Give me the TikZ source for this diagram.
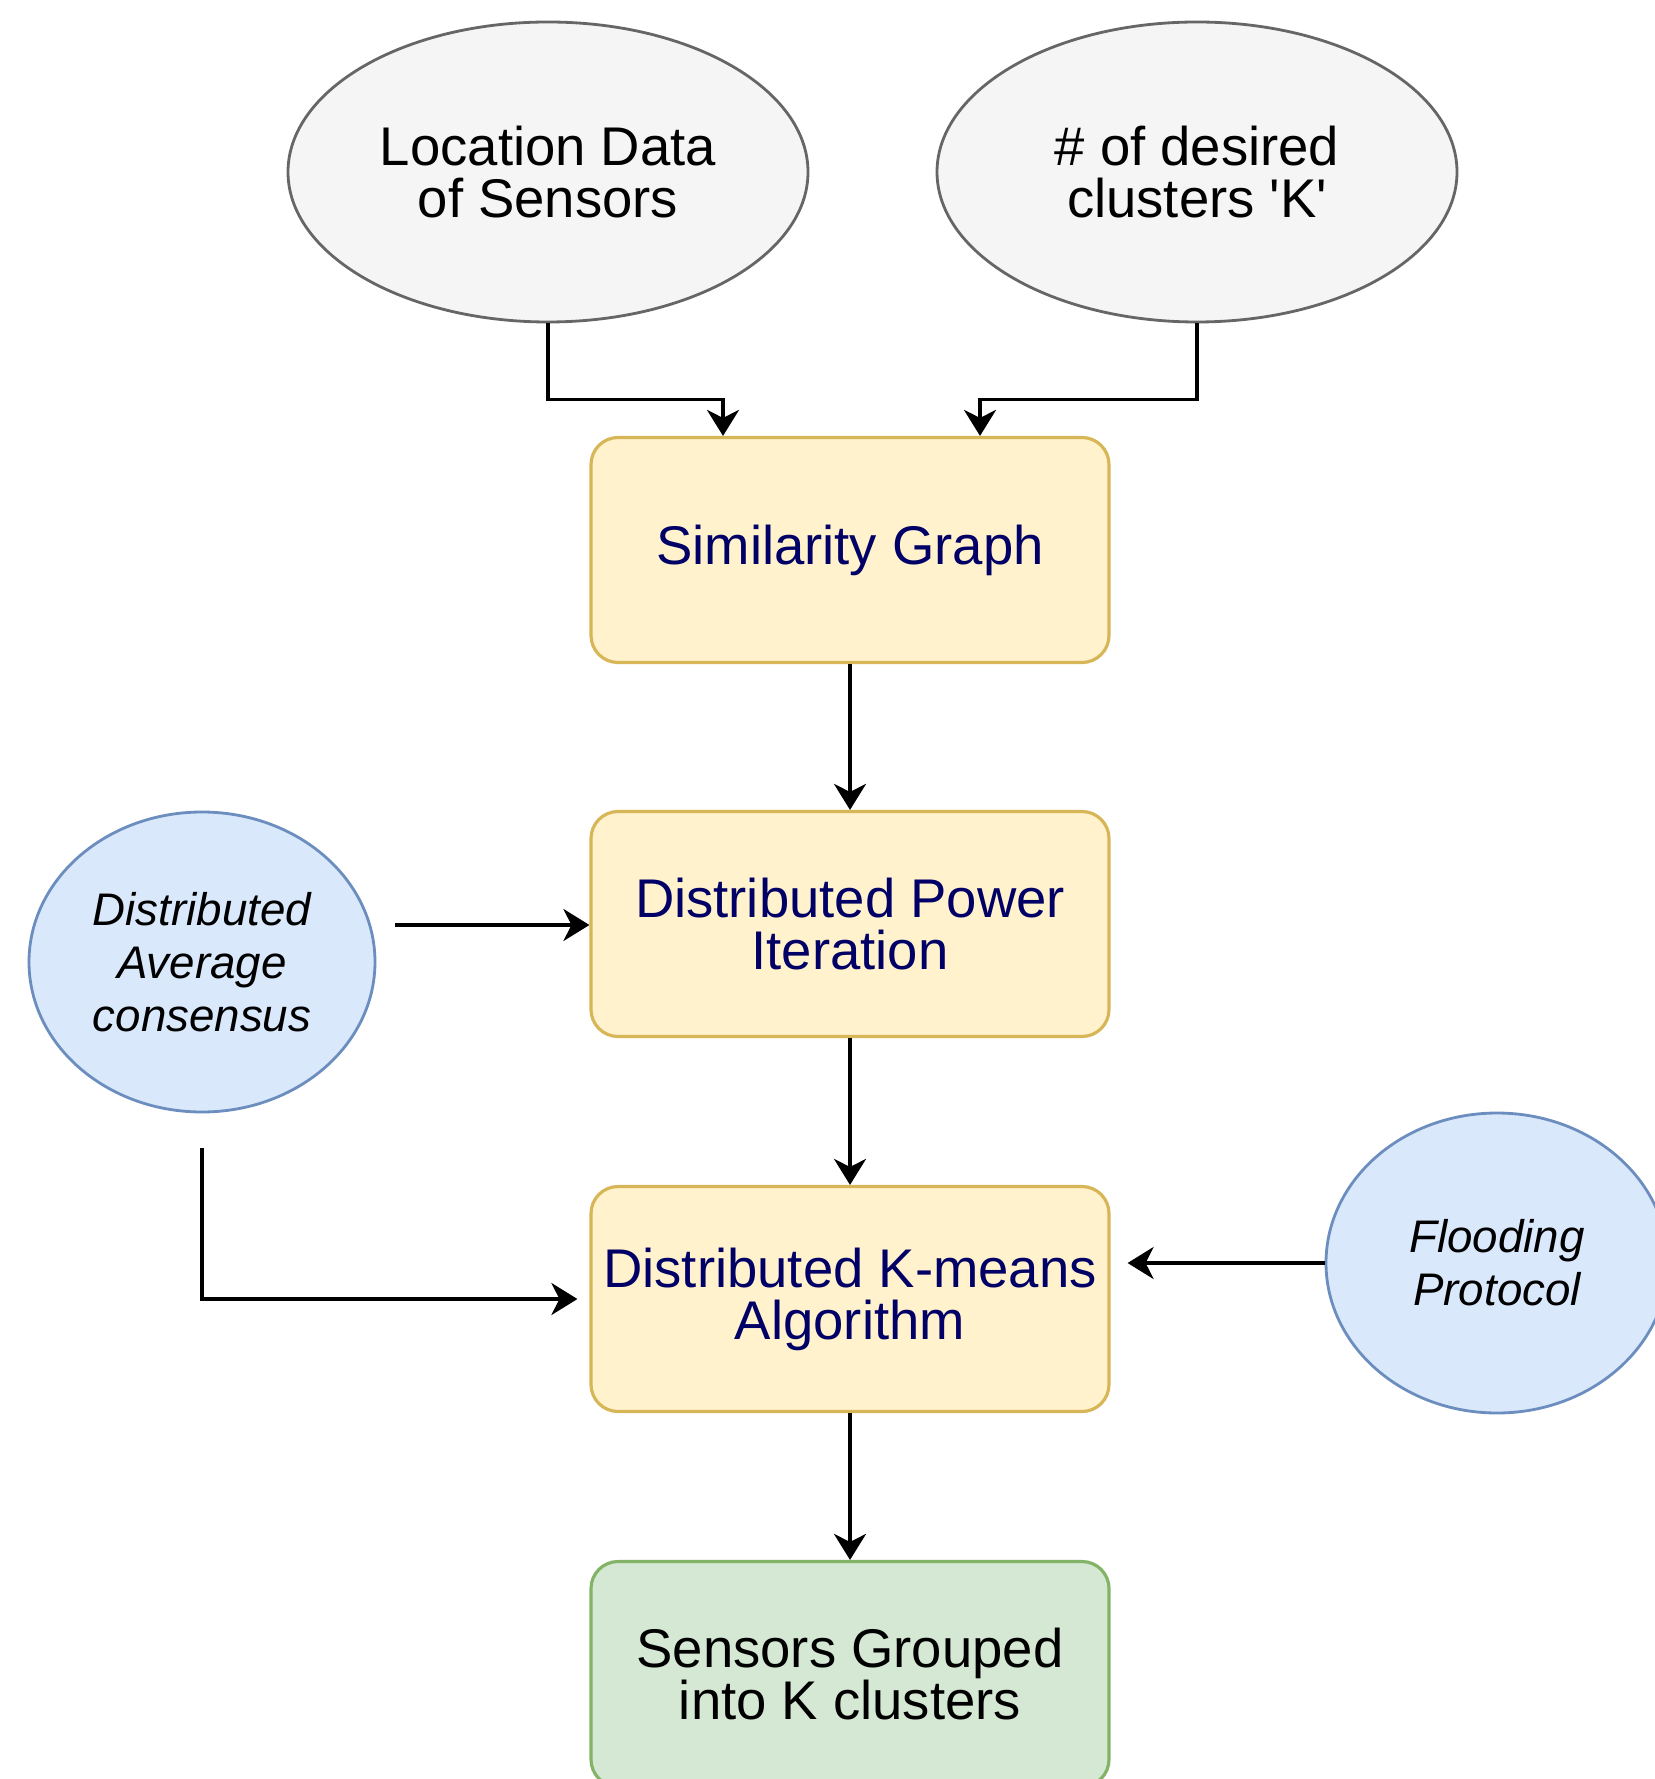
\documentclass[tikz,border=0pt]{standalone}
\usepackage{fontspec}
\setmainfont{Liberation Sans}
\usetikzlibrary{shapes.geometric,arrows.meta,positioning}

\definecolor{grayfill}{HTML}{F5F5F5}
\definecolor{graydraw}{HTML}{666666}
\definecolor{yelfill}{HTML}{FFF2CC}
\definecolor{yeldraw}{HTML}{D6B656}
\definecolor{bluefill}{HTML}{DAE8FC}
\definecolor{bluedraw}{HTML}{6C8EBF}
\definecolor{grnfill}{HTML}{D5E8D4}
\definecolor{grndraw}{HTML}{82B366}
\definecolor{navytext}{HTML}{000066}

\tikzset{
 inputblob/.style={ellipse, draw=graydraw, fill=grayfill, line width=0.8pt,
   minimum width=5.2cm, minimum height=3cm, inner sep=0pt, align=center,
   font=\fontsize{15.5}{14.8}\selectfont},
 helperblob/.style={ellipse, draw=bluedraw, fill=bluefill, line width=0.8pt,
   minimum height=3cm, inner sep=0pt, align=center,
   font=\itshape\fontsize{13}{15}\selectfont},
 stagebox/.style={rectangle, rounded corners=0.27cm, draw=yeldraw, fill=yelfill,
   line width=0.9pt, minimum width=5.18cm, minimum height=2.25cm, align=center,
   text=navytext, font=\fontsize{15.5}{14.8}\selectfont},
 outbox/.style={stagebox, draw=grndraw, fill=grnfill, text=black},
 flow/.style={-{Stealth[length=0.26cm,width=0.32cm,inset=0.08cm]}, line width=0.95pt}
}

\begin{document}
\begin{tikzpicture}
 \useasboundingbox (0,0) rectangle (16.54,-17.79);

 \node[inputblob] (loc) at (5.48,-1.72) {Location Data\\of Sensors};
 \node[inputblob] (kwant) at (11.97,-1.72) {\# of desired\\clusters \textquotesingle K\textquotesingle};

 \node[stagebox] (sim) at (8.50,-5.50) {Similarity Graph};
 \node[stagebox] (pow) at (8.50,-9.24) {Distributed Power\\Iteration};
 \node[stagebox] (km) at (8.50,-12.99) {Distributed K-means\\Algorithm};
 \node[outbox] (done) at (8.50,-16.74) {Sensors Grouped\\into K clusters};

 \node[helperblob, minimum width=3.46cm] (avg) at (2.02,-9.62) {Distributed\\Average\\consensus};
 \node[helperblob, minimum width=3.42cm] (flood) at (14.97,-12.63) {Flooding\\Protocol};

 \coordinate (avgR) at (3.95,-9.25);
 \coordinate (avgB) at (2.02,-11.48);
 \coordinate (kmL) at ([xshift=-0.12cm]km.west);
 \coordinate (kmR) at ([xshift=0.17cm]km.east);

 \draw[flow] (loc.south) -- ++(0,-0.76) -| ([xshift=-1.27cm]sim.north);
 \draw[flow] (kwant.south) -- ++(0,-0.76) -| ([xshift=1.3cm]sim.north);
 \draw[flow] (sim) -- (pow);
 \draw[flow] (pow) -- (km);
 \draw[flow] (km) -- (done);

 \draw[flow] (avgR) -- (pow.west |- avgR);
 \draw[flow] (avgB) |- (kmL);
 \draw[flow] (flood.west) -- (kmR |- flood.west);
\end{tikzpicture}
\end{document}
